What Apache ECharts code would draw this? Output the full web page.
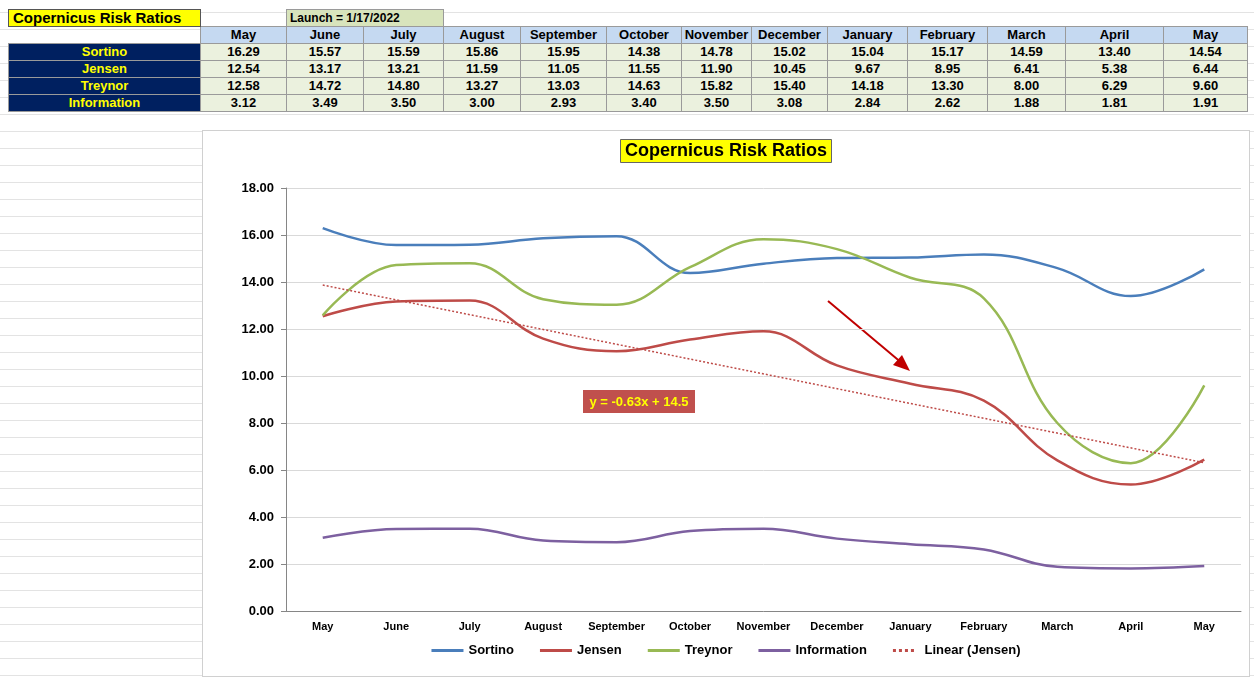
<!DOCTYPE html>
<html>
<head>
<meta charset="UTF-8">
<title>Copernicus Risk Ratios</title>
<script src="https://cdn.jsdelivr.net/npm/echarts@6/dist/echarts.min.js"></script>
<style>
  body { margin:0; width:1254px; height:680px; overflow:hidden; font-family:"Liberation Sans", Arial, sans-serif;
    background-color:#fff;
    background-image:linear-gradient(#e3e3e3 1px, transparent 1px);
    background-size:100% 17px; background-position:0 12px; }
  #tbl { position:absolute; left:8px; top:9px; border-collapse:collapse; font-size:13px; font-weight:bold; }
  #tbl td { border:1px solid #9a9a9a; height:16px; padding:0; text-align:center; line-height:16px; }
  .lab { background:#002060; color:#ffff00; width:191px; }
  .hd { background:#c5d9f1; }
  .dt { background:#ebf1de; }
  #chart { position:absolute; left:202px; top:130px; width:1046px; height:545px; background:#fff; border:1px solid #d0d0d0; }
</style>
</head>
<body>
<table id="tbl"></table>
<div id="chart"></div>
<script>
// data read from the sheet
const months = ['May','June','July','August','September','October','November','December','January','February','March','April','May'];
const colWidths = [85,76,79,76,85,74,69,75,79,79,77,97,83];
const sortino = [16.29,15.57,15.59,15.86,15.95,14.38,14.78,15.02,15.04,15.17,14.59,13.40,14.54];
const jensen = [12.54,13.17,13.21,11.59,11.05,11.55,11.90,10.45,9.67,8.95,6.41,5.38,6.44];
const treynor = [12.58,14.72,14.80,13.27,13.03,14.63,15.82,15.40,14.18,13.30,8.00,6.29,9.60];
const information = [3.12,3.49,3.50,3.00,2.93,3.40,3.50,3.08,2.84,2.62,1.88,1.81,1.91];
const trendEnds = [[0,13.87],[12,6.31]];
const yTicks = { min:0, max:18, interval:2 };

// table
const tbl = document.getElementById('tbl');
let h = '<tr><td style="background:#ffff00;color:#000;font-size:15px;border:1px solid #555;text-align:left;padding-left:4px">Copernicus Risk Ratios</td>'
  + '<td style="border:none;background:none"></td><td colspan="2" style="background:#d8e4bc;text-align:left;padding-left:3px;font-size:12px">Launch = 1/17/2022</td>'
  + '<td colspan="10" style="border:none;background:none"></td></tr>';
h += '<tr><td style="border:none;background:none"></td>' + months.map((m,i)=>`<td class="hd" style="width:${colWidths[i]}px">${m}</td>`).join('') + '</tr>';
[['Sortino',sortino],['Jensen',jensen],['Treynor',treynor],['Information',information]].forEach(([n,v])=>{
  h += `<tr><td class="lab">${n}</td>` + v.map(x=>`<td class="dt">${x.toFixed(2)}</td>`).join('') + '</tr>';
});
tbl.innerHTML = h;

const chart = echarts.init(document.getElementById('chart'));
const line = (name, data, color) => ({ name, type:'line', data, smooth:0.4, symbol:'none',
  lineStyle:{ color, width:2.5 }, itemStyle:{ color } });
chart.setOption({
  animation:false,
  textStyle:{ fontFamily:'Liberation Sans' },
  title:{ text:'Copernicus Risk Ratios', left:'center', top:8, backgroundColor:'#ffff00', borderColor:'#666', borderWidth:1, padding:[3,5],
    textStyle:{ fontSize:18, fontWeight:'bold', color:'#000' } },
  grid:{ left:83, right:8, top:57, bottom:65 },
  legend:{ bottom:14, itemGap:26, itemWidth:32, itemHeight:3, icon:'rect',
    textStyle:{ fontSize:13, fontWeight:'bold', color:'#000' },
    data:['Sortino','Jensen','Treynor','Information',{ name:'Linear (Jensen)', icon:'path://M0,0h2v2h-2zM4,0h2v2h-2zM8,0h2v2h-2zM12,0h2v2h-2z' }] },
  xAxis:[{ type:'category', data:months, boundaryGap:true,
    axisLine:{ lineStyle:{ color:'#868686' } }, axisTick:{ show:false },
    axisLabel:{ fontSize:11, fontWeight:'bold', color:'#000', margin:10, interval:0 } },
    { type:'value', min:-0.5, max:12.5, show:false }],
  yAxis:{ type:'value', min:yTicks.min, max:yTicks.max, interval:yTicks.interval,
    axisLine:{ show:true, onZero:false, lineStyle:{ color:'#868686' } },
    axisLabel:{ fontSize:13, fontWeight:'bold', color:'#000', formatter:v=>v.toFixed(2), margin:12 },
    splitLine:{ lineStyle:{ color:'#d9d9d9' } } },
  series:[
    line('Sortino', sortino, '#4a7ebb'),
    line('Jensen', jensen, '#be4b48'),
    line('Treynor', treynor, '#98b954'),
    line('Information', information, '#7d60a0'),
    { name:'Linear (Jensen)', type:'line', xAxisIndex:1, data:trendEnds, symbol:'none',
      lineStyle:{ color:'#be4b48', width:1.5, type:[2,2] }, itemStyle:{ color:'#be4b48' } }
  ],
  graphic:[
    { type:'line', shape:{ x1:625, y1:170, x2:700, y2:233 }, style:{ stroke:'#c00000', lineWidth:2 } },
    { type:'polygon', shape:{ points:[[707,240],[690,234],[699,224]] }, style:{ fill:'#c00000' } },
    { type:'rect', shape:{ x:380, y:259, width:112, height:23 }, style:{ fill:'#c0504d' } },
    { type:'text', x:436, y:271, style:{ text:'y = -0.63x + 14.5', fill:'#ffff00', font:'bold 13px Liberation Sans', align:'center', verticalAlign:'middle' } }
  ]
});
</script>
</body>
</html>
